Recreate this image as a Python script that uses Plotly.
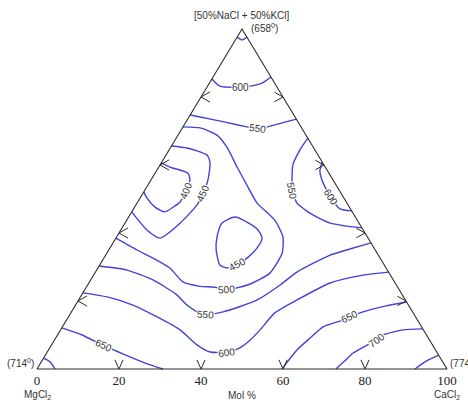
import numpy as np
import plotly.graph_objects as go

# ---------------- data (compositions in mol %) ----------------
# vertices: CaCl2 %, (NaCl+KCl) %
vertex_ca = [0, 100, 0, 0]
vertex_nk = [0, 0, 100, 0]
vertex_temps = ["(714<sup>0</sup>)", "(774<sup>0</sup>)", "(658<sup>0</sup>)"]
top_name = "[50%NaCl + 50%KCl]"
left_name = "MgCl<sub>2</sub>"
right_name = "CaCl<sub>2</sub>"
axis_title = "Mol %"
tick_vals = [0, 20, 40, 60, 80, 100]
tick_text = ["0", "20", "40", "60", "80", "100"]
chevron_fracs = [20, 40, 60, 80]

# isotherms (liquidus temperature, deg C): CaCl2 %, (NaCl+KCl) %
iso650_top_ca = [0, 1.6, 2.4]
iso650_top_nk = [97.6, 96.8, 97.6]

iso600_top_ca = [0, 3.0, 8.3, 10.4, 12.85, 14.1]
iso600_top_nk = [85.3, 83.2, 82.9, 83.2, 84.1, 85.9]

iso550_top_ca = [0, 2.75, 9.6, 15.6, 18.6, 20.5, 23.6, 26.5]
iso550_top_nk = [74.7, 74.1, 72.6, 71.2, 70.6, 71.2, 72.4, 73.5]

iso500_ca = [0, 4.35, 9.5, 13.65, 19.1, 24.15, 29.3, 36.1, 40.6, 42.75, 42.7,
             39.5, 36.6, 34.35, 30.85, 27.65, 22.8, 17.55, 12.0, 6.9, 0]
iso500_nk = [71.2, 70.9, 68.8, 65.3, 59.4, 54.1, 48.8, 43.8, 38.8, 34.1, 28.2,
             25.0, 23.8, 23.5, 24.1, 24.3, 25.6, 29.7, 32.6, 35.0, 38.5]

iso450_left_ca = [0, 4.1, 10.05, 11.9, 13.9, 14.75, 14.9, 13.45, 10.75, 6.35, 0]
iso450_left_nk = [65.6, 65.0, 62.9, 60.6, 55.6, 51.5, 48.2, 42.9, 38.5, 40.9, 46.2]

iso400_ca = [0, 2.7, 8.0, 9.5, 10.0, 10.35, 9.4, 8.1, 5.0, 1.65, 0]
iso400_nk = [60.6, 59.4, 57.6, 55.6, 52.6, 49.1, 47.6, 46.2, 47.6, 50.3, 52.1]

iso450_mid_ca = [25.95, 23.65, 24.5, 26.2, 29.3, 31.45, 33.5, 35.05, 35.9, 35.65, 33.45, 29.6, 25.95]
iso450_mid_nk = [44.7, 42.9, 38.8, 35.0, 30.6, 29.7, 30.6, 32.9, 35.6, 38.5, 40.9, 43.2, 44.7]

iso550_right_ca = [32.1, 31.9, 32.4, 34.1, 35.9, 39.0, 42.0, 44.65, 50.05, 54.05, 58.5]
iso550_right_nk = [67.9, 64.4, 60.0, 56.2, 52.6, 48.8, 46.8, 45.3, 42.9, 42.1, 41.5]

iso600_right_ca = [39.1, 39.9, 41.7, 46.2, 50.35, 53.5]
iso600_right_nk = [60.9, 58.2, 55.6, 50.6, 47.1, 46.5]

iso550_low_ca = [0, 7.45, 15.2, 23.2, 27.2, 30.6, 33.05, 37.0, 43.55, 46.95, 49.15, 54.75, 58.65, 62.9]
iso550_low_nk = [30.3, 29.1, 26.2, 21.8, 18.8, 16.8, 15.9, 16.8, 20.3, 24.7, 28.5, 33.5, 35.3, 37.1]

iso600_low_ca = [0, 6.5, 14.0, 21.65, 29.15, 35.45, 39.7, 43.8, 46.4, 47.75, 48.65, 49.75, 53.25, 58.85, 65.7, 71.5]
iso600_low_nk = [22.4, 21.2, 18.8, 15.3, 11.5, 7.1, 5.0, 5.0, 6.2, 8.5, 11.5, 16.5, 20.3, 25.3, 27.6, 28.5]

iso650_left_ca = [0, 6.0, 12.9, 16.65, 21.8, 27.0, 30.7]
iso650_left_nk = [12.1, 10.0, 6.8, 5.3, 3.2, 1.2, 0]

iso700_left_ca = [0, 2.15, 4.4]
iso700_left_nk = [3.2, 2.1, 0]

iso650_right_ca = [59.75, 60.6, 62.05, 63.6, 67.4, 68.65, 71.1, 75.65, 80.3]
iso650_right_nk = [0, 5.6, 9.1, 12.4, 14.4, 15.3, 16.8, 18.5, 19.7]

iso700_right_ca = [72.9, 73.9, 74.75, 78.45, 79.4, 83.55, 88.2]
iso700_right_nk = [0, 2.4, 4.7, 8.5, 10.0, 11.5, 11.8]

iso750_right_ca = [92.2, 93.55, 95.9]
iso750_right_nk = [0, 2.1, 4.1]

# contour labels
label_text = ["600", "550", "400", "450", "550", "600", "450", "500",
              "550", "600", "650", "650", "700"]
label_ca = [8.3, 18.6, 10.0, 14.75, 35.9, 46.2, 33.5, 34.35,
            33.05, 43.8, 12.9, 68.65, 78.45]
label_nk = [82.9, 70.6, 52.6, 51.5, 52.6, 50.6, 30.6, 23.5,
            15.9, 5.0, 6.8, 15.3, 8.5]
label_angle = [0, 8, -68, -66, 79, 58, -28, -4, 4, -8, 25, -26, -36]

isotherms = [
    (650, iso650_top_ca, iso650_top_nk),
    (600, iso600_top_ca, iso600_top_nk),
    (550, iso550_top_ca, iso550_top_nk),
    (500, iso500_ca, iso500_nk),
    (450, iso450_left_ca, iso450_left_nk),
    (400, iso400_ca, iso400_nk),
    (450, iso450_mid_ca, iso450_mid_nk),
    (550, iso550_right_ca, iso550_right_nk),
    (600, iso600_right_ca, iso600_right_nk),
    (550, iso550_low_ca, iso550_low_nk),
    (600, iso600_low_ca, iso600_low_nk),
    (650, iso650_left_ca, iso650_left_nk),
    (700, iso700_left_ca, iso700_left_nk),
    (650, iso650_right_ca, iso650_right_nk),
    (700, iso700_right_ca, iso700_right_nk),
    (750, iso750_right_ca, iso750_right_nk),
]


def to_xy(ca, nk):
    ca = np.asarray(ca, float)
    nk = np.asarray(nk, float)
    return ca + nk / 2.0, nk


BLUE = "#4343d8"
EDGE = "#2a2a2a"
LABEL_FONT = dict(family="Liberation Sans, Arial, sans-serif", size=10, color="#333333")

fig = go.Figure()

# isotherm lines
for level, ca, nk in isotherms:
    x, y = to_xy(ca, nk)
    fig.add_trace(go.Scatter(x=x, y=y, mode="lines", name=str(level),
                             line=dict(color=BLUE, width=1.4, shape="spline", smoothing=0.6),
                             hoverinfo="skip", showlegend=False))

# triangle frame
tx, ty = to_xy(vertex_ca, vertex_nk)
fig.add_trace(go.Scatter(x=tx, y=ty, mode="lines", line=dict(color=EDGE, width=1.1),
                         hoverinfo="skip", showlegend=False))

# chevron tick marks (offsets are style, in axis units)
cx, cy = [], []
for f in chevron_fracs:
    # base
    bx, by = to_xy([f], [0])
    bx, by = bx[0], by[0]
    cx += [bx - 1.0, bx, bx + 1.0, None]
    cy += [by + 2.7, by, by + 2.7, None]
    # left edge
    lx, ly = to_xy([0], [f])
    lx, ly = lx[0], ly[0]
    cx += [lx + 2.2, lx, lx + 2.2, None]
    cy += [ly + 1.5, ly, ly - 1.5, None]
    # right edge
    rx, ry = to_xy([100 - f], [f])
    rx, ry = rx[0], ry[0]
    cx += [rx - 2.1, rx, rx - 2.1, None]
    cy += [ry + 1.4, ry, ry - 1.4, None]
fig.add_trace(go.Scatter(x=cx, y=cy, mode="lines", line=dict(color=EDGE, width=1.0),
                         hoverinfo="skip", showlegend=False))

# contour labels
lx, ly = to_xy(label_ca, label_nk)
for t, xx, yy, a in zip(label_text, lx, ly, label_angle):
    fig.add_annotation(x=xx, y=yy, text=t, textangle=a, showarrow=False,
                       font=LABEL_FONT, bgcolor="white", borderpad=0)

# vertex labels
vx, vy = to_xy(vertex_ca[:3], vertex_nk[:3])
fig.add_annotation(x=vx[0], y=vy[0], text=vertex_temps[0], showarrow=False,
                   xanchor="right", yanchor="middle", xshift=-1, yshift=6, font=LABEL_FONT)
fig.add_annotation(x=vx[1], y=vy[1], text=vertex_temps[1], showarrow=False,
                   xanchor="left", yanchor="middle", xshift=1, yshift=6, font=LABEL_FONT)
fig.add_annotation(x=vx[2], y=vy[2], text=vertex_temps[2], showarrow=False,
                   xanchor="left", yanchor="middle", xshift=7, yshift=1, font=LABEL_FONT)
fig.add_annotation(x=vx[2], y=vy[2], text=top_name, showarrow=False,
                   xanchor="center", yanchor="middle", yshift=14, font=LABEL_FONT)
fig.add_annotation(x=vx[0], y=vy[0], text=left_name, showarrow=False,
                   xanchor="center", yanchor="middle", yshift=-26, font=LABEL_FONT)
fig.add_annotation(x=vx[1], y=vy[1], text=right_name, showarrow=False,
                   xanchor="center", yanchor="middle", yshift=-26, font=LABEL_FONT)
fig.add_annotation(x=50, y=0, text=axis_title, showarrow=False,
                   xanchor="center", yanchor="middle", yshift=-26, font=LABEL_FONT)

fig.update_layout(
    width=468, height=402,
    margin=dict(l=0, r=0, t=0, b=31),
    paper_bgcolor="white", plot_bgcolor="white",
    xaxis=dict(range=[-37 / 4.1, 431 / 4.1], tickvals=tick_vals, ticktext=tick_text,
               showgrid=False, zeroline=False, showline=False, ticks="",
               tickfont=dict(family="Liberation Serif, Times New Roman, serif", size=13, color="#222222"),
               fixedrange=True),
    yaxis=dict(range=[-2 / 3.4, 369 / 3.4], visible=False, showgrid=False, zeroline=False,
               fixedrange=True),
    showlegend=False,
)

fig.write_html("out.html")
